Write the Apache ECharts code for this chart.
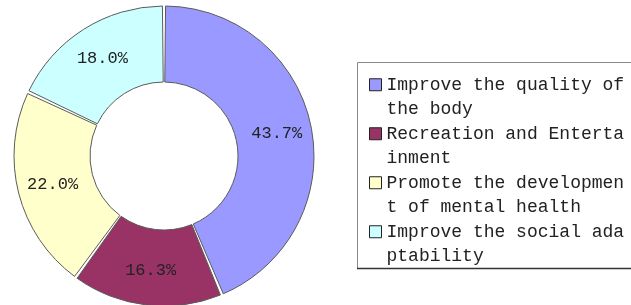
<!DOCTYPE html>
<html>
<head>
<meta charset="utf-8">
<script src="https://cdn.jsdelivr.net/npm/echarts@6/dist/echarts.min.js"></script>
<style>html,body{margin:0;padding:0;background:#fff;}#c{width:631px;height:305px;}</style>
</head>
<body>
<div id="c"></div>
<script>
var categories = [
  "Improve the quality of the body",
  "Recreation and Entertainment",
  "Promote the development of mental health",
  "Improve the social adaptability"
];
var legendText = [
  "Improve the quality of\nthe body",
  "Recreation and Enterta\ninment",
  "Promote the developmen\nt of mental health",
  "Improve the social ada\nptability"
];
var values = [43.7, 16.3, 22.0, 18.0];
var colors = ["#9999FF", "#993366", "#FFFFCC", "#CCFFFF"];

var chart = echarts.init(document.getElementById('c'), null, {renderer: 'canvas'});
var data = categories.map(function (n, i) {
  return {name: n, value: values[i], itemStyle: {color: colors[i]}};
});
var textMap = {};
categories.forEach(function (n, i) { textMap[n] = '\n' + legendText[i]; });

chart.setOption({
  animation: false,
  graphic: [
    {type: 'rect', z: -1, shape: {x: 357.5, y: 62.5, width: 300, height: 206},
     style: {fill: '#fff', stroke: '#8a8a8a', lineWidth: 1}},
    {type: 'line', z: -1, shape: {x1: 357, y1: 268.5, x2: 631, y2: 268.5},
     style: {stroke: '#333', lineWidth: 1.5}}
  ],
  legend: {
    orient: 'vertical',
    left: 369,
    top: 48,
    padding: 0,
    itemGap: -24.5,
    itemWidth: 12,
    itemHeight: 12,
    icon: 'rect',
    itemStyle: {borderColor: '#222', borderWidth: 1},
    formatter: function (n) { return textMap[n]; },
    textStyle: {
      fontFamily: 'Liberation Mono',
      fontSize: 18,
      color: '#222',
      lineHeight: 24.5
    },
    data: categories
  },
  series: [{
    type: 'pie',
    center: [164, 156],
    radius: [74, 150],
    startAngle: 90,
    clockwise: true,
    padAngle: 1.2,
    avoidLabelOverlap: false,
    itemStyle: {borderColor: '#5a5a5a', borderWidth: 1},
    label: {
      show: true,
      position: 'inside',
      formatter: function (p) { return p.value.toFixed(1) + '%'; },
      fontFamily: 'Liberation Mono',
      fontSize: 17,
      color: '#222'
    },
    labelLine: {show: false},
    emphasis: {disabled: true},
    data: data
  }]
});
</script>
</body>
</html>
